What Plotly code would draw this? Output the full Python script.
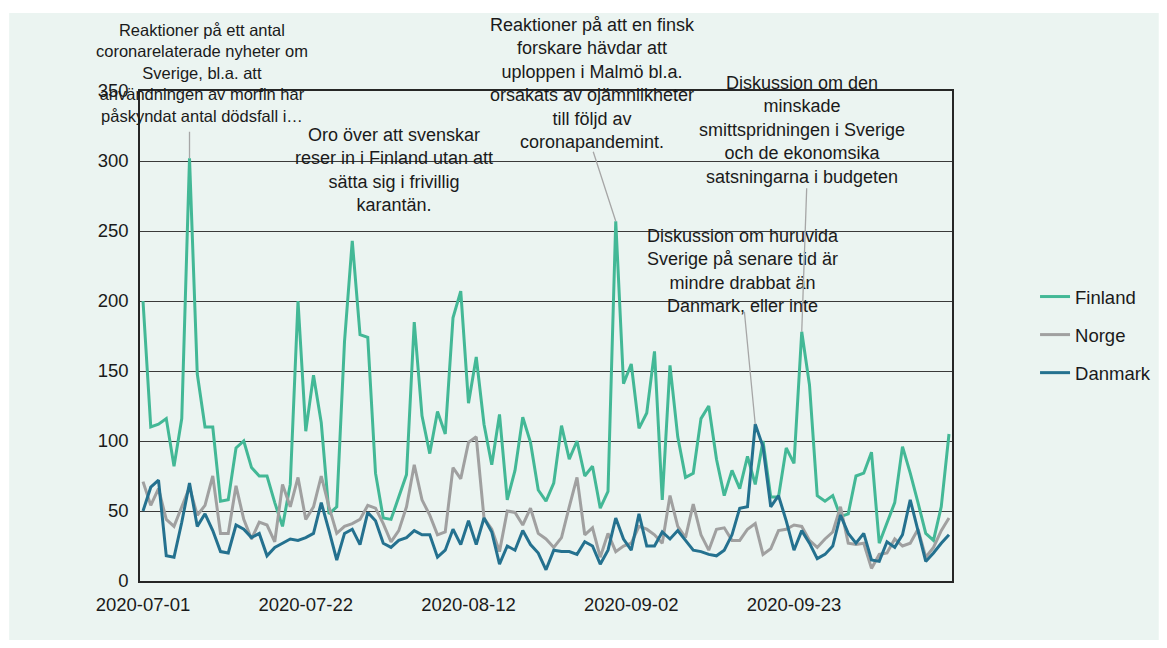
import pandas as pd
import plotly.graph_objects as go

# --- data (daily from 2020-07-01) ---
START_DATE = '2020-07-01'

FINLAND = [200, 110, 112, 116, 82, 116, 302, 148, 110, 110,
           57, 58, 95, 100, 81, 75, 75, 56, 39, 69,
           200, 107, 147, 113, 48, 53, 171, 243, 176, 174,
           77, 45, 44, 60, 76, 185, 118, 91, 121, 105,
           188, 207, 127, 160, 112, 83, 119, 58, 79, 117,
           99, 65, 57, 70, 111, 87, 100, 75, 82, 52,
           64, 257, 141, 155, 109, 120, 164, 58, 154, 103,
           74, 77, 116, 125, 87, 61, 79, 66, 89, 69,
           100, 60, 60, 95, 84, 178, 140, 61, 57, 61,
           46, 48, 75, 77, 92, 27, 41, 56, 96, 77,
           56, 34, 29, 53, 105]

NORGE = [71, 54, 66, 44, 39, 53, 67, 47, 54, 75,
         34, 34, 68, 44, 30, 42, 40, 28, 69, 53,
         74, 44, 53, 75, 53, 34, 39, 41, 44, 54,
         52, 41, 28, 36, 53, 83, 58, 47, 33, 35,
         81, 73, 99, 103, 45, 37, 21, 50, 49, 40,
         52, 34, 30, 24, 31, 53, 74, 33, 38, 17,
         34, 21, 25, 27, 39, 37, 33, 27, 61, 39,
         31, 55, 33, 22, 37, 38, 29, 29, 37, 41,
         19, 23, 36, 37, 40, 39, 29, 24, 30, 35,
         53, 27, 26, 27, 9, 19, 20, 30, 25, 27,
         37, 17, 24, 36, 45]

DANMARK = [50, 67, 72, 18, 17, 42, 70, 39, 48, 36,
           21, 20, 40, 37, 31, 34, 18, 24, 27, 30,
           29, 31, 34, 56, 36, 15, 34, 37, 26, 49,
           43, 27, 24, 29, 31, 36, 33, 33, 17, 22,
           37, 26, 43, 26, 45, 35, 12, 25, 22, 36,
           26, 20, 8, 22, 21, 21, 19, 28, 25, 12,
           22, 45, 30, 22, 48, 25, 25, 35, 30, 36,
           29, 22, 21, 19, 18, 22, 33, 52, 53, 112,
           96, 53, 61, 43, 22, 36, 27, 16, 19, 25,
           47, 34, 27, 34, 15, 14, 28, 24, 33, 58,
           36, 14, 20, 27, 33]

X_TICKS = ['2020-07-01', '2020-07-22', '2020-08-12', '2020-09-02', '2020-09-23']
Y_TICKS = [0, 50, 100, 150, 200, 250, 300, 350]

dates = pd.date_range(START_DATE, periods=len(FINLAND), freq='D')

SERIES = [
    ('Finland', FINLAND, '#43B896'),
    ('Norge', NORGE, '#A0A0A0'),
    ('Danmark', DANMARK, '#24718F'),
]

FONT = 'Liberation Sans, Arial, sans-serif'
FS = 18.5
MINT = '#EBF4F1'
TXT = '#1A1A1A'

fig = go.Figure()
for name, values, color in SERIES:
    fig.add_trace(go.Scatter(x=dates, y=values, name=name, mode='lines',
                             line=dict(color=color, width=3),
                             legendgroup=name))

# --- callouts: text boxes (paper coords) + grey leader lines to the peaks ---
TEXTS = [
    ('Reaktioner på ett antal<br>coronarelaterade nyheter om<br>Sverige, bl.a. att<br>'
     'användningen av morfin har<br>påskyndat antal dödsfall i…', 0.0763, 1.0367, 16.5),
    ('Oro över att svenskar<br>reser in i Finland utan att<br>sätta sig i frivillig<br>karantän.',
     0.3124, 0.8388, 18),
    ('Reaktioner på att en finsk<br>forskare hävdar att<br>uploppen i Malmö bl.a.<br>'
     'orsakats av ojämnlikheter<br>till följd av<br>coronapandemint.', 0.5572, 1.0143, 18),
    ('Diskussion om den<br>minskade<br>smittspridningen i Sverige<br>och de ekonomsika<br>'
     'satsningarna i budgeten', 0.8155, 0.9204, 18),
    ('Diskussion om huruvida<br>Sverige på senare tid är<br>mindre drabbat än<br>Danmark, eller inte',
     0.7429, 0.6327, 18),
]
for text, px, py, size in TEXTS:
    fig.add_annotation(text=text, xref='paper', yref='paper', x=px, y=py,
                       xanchor='center', yanchor='middle', showarrow=False,
                       font=dict(family=FONT, size=size, color=TXT), align='center')

LEADERS = [  # (series, date, ax, ay)
    (FINLAND, '2020-07-07', 0, -28),
    (FINLAND, '2020-08-31', -23, -71),
    (FINLAND, '2020-09-24', 5, -145),
    (DANMARK, '2020-09-18', -11, -114),
]
for values, day, ax, ay in LEADERS:
    i = list(dates).index(pd.Timestamp(day))
    fig.add_annotation(x=dates[i], y=values[i], xref='x', yref='y', text='',
                       showarrow=True, arrowhead=0, arrowwidth=1.3,
                       arrowcolor='#A6A6A6', ax=ax, ay=ay, standoff=0)

# mint background panel
fig.add_shape(type='rect', xref='paper', yref='paper', x0=-0.1611, x1=1.2546,
              y0=-0.1204, y1=1.1592, fillcolor=MINT, line_width=0, layer='below')

fig.update_layout(
    width=1167, height=648,
    margin=dict(l=140, r=214, t=91, b=67),
    paper_bgcolor='white',
    plot_bgcolor='rgba(0,0,0,0)',
    font=dict(family=FONT, size=FS, color=TXT),
    showlegend=True,
    legend=dict(x=1.1009, y=0.502, xanchor='left', yanchor='middle',
                bgcolor='rgba(0,0,0,0)', tracegroupgap=11,
                font=dict(family=FONT, size=FS, color=TXT)),
)

fig.update_xaxes(
    type='date',
    range=['2020-06-30 14:40', '2020-10-13 09:20'],
    tickvals=X_TICKS, ticktext=X_TICKS,
    showgrid=False, zeroline=False,
    showline=True, mirror=True, linecolor='#262626', linewidth=1.5,
    ticks='', ticklabelstandoff=6,
)
fig.update_yaxes(
    range=[0, 350], tickvals=Y_TICKS,
    showgrid=True, gridcolor='#3A3A3A', gridwidth=1,
    zeroline=False,
    showline=True, mirror=True, linecolor='#262626', linewidth=1.5,
    ticks='', ticklabelstandoff=6,
)

fig.write_html('out.html', config={'displayModeBar': False},
               post_script="document.body.style.margin='0px';")
